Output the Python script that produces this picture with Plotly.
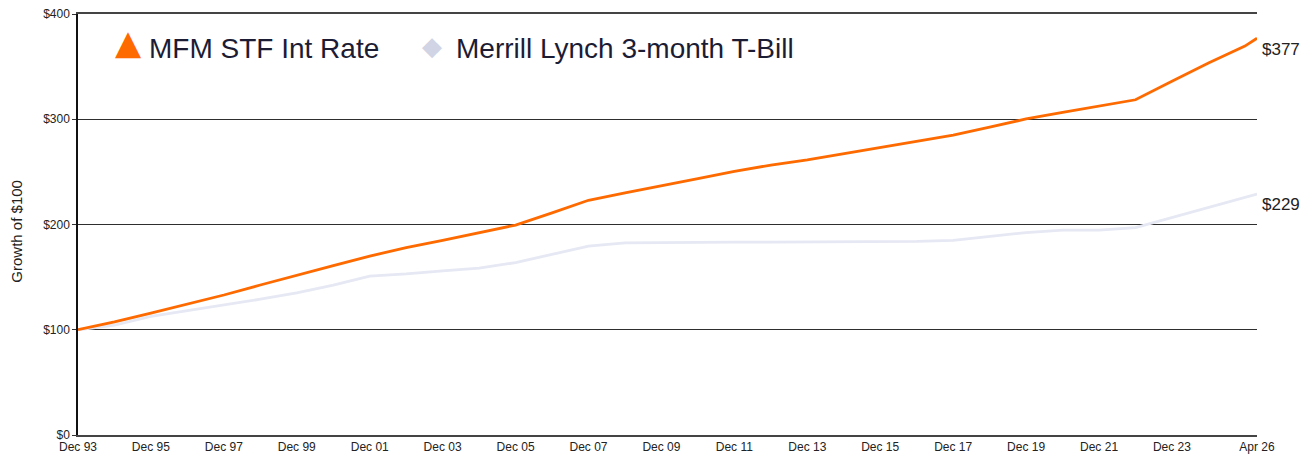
import plotly.graph_objects as go

# Period-end dates (year-month)
dates = ["1993-12", "1994-12", "1995-12", "1996-12", "1997-12", "1998-12", "1999-12",
         "2000-12", "2001-12", "2002-12", "2003-12", "2004-12", "2005-12", "2006-12",
         "2007-12", "2008-12", "2009-12", "2010-12", "2011-12", "2012-12", "2013-12",
         "2014-12", "2015-12", "2016-12", "2017-12", "2018-12", "2019-12", "2020-12",
         "2021-12", "2022-12", "2023-12", "2024-12", "2025-12", "2026-04"]

mfm_stf = [100, 107.5, 115.8, 124.5, 133, 142.5, 152, 161, 170, 178, 185, 192, 199.5,
           211, 223, 230, 236.5, 243.5, 250.5, 256.5, 261.5, 267.5, 273, 279, 285,
           292.5, 300.3, 306.5, 312.5, 318.5, 336, 353.5, 369.5, 377]

ml_tbill = [100, 104.5, 112.6, 118, 123.7, 129, 135, 142.5, 151, 153, 156, 158.5, 163.8,
            171.5, 179.5, 182.5, 183, 183.2, 183.3, 183.3, 183.4, 183.4, 183.5, 184,
            185, 189, 192.3, 194.6, 194.7, 197, 206.7, 216.3, 225.9, 229]

tick_vals = ["1993-12", "1995-12", "1997-12", "1999-12", "2001-12", "2003-12", "2005-12",
             "2007-12", "2009-12", "2011-12", "2013-12", "2015-12", "2017-12", "2019-12",
             "2021-12", "2023-12", "2026-04"]
tick_text = ["Dec 93", "Dec 95", "Dec 97", "Dec 99", "Dec 01", "Dec 03", "Dec 05",
             "Dec 07", "Dec 09", "Dec 11", "Dec 13", "Dec 15", "Dec 17", "Dec 19",
             "Dec 21", "Dec 23", "Apr 26"]

y_ticks = [0, 100, 200, 300, 400]
y_tick_text = ["$0", "$100", "$200", "$300", "$400"]

series_names = ["MFM STF Int Rate", "Merrill Lynch 3-month T-Bill"]
end_labels = ["$377", "$229"]

ORANGE = "#FF6A00"
TBILL = "#E6E8F3"
TBILL_MARK = "#D0D4E4"
FONT = "Liberation Sans, Arial, sans-serif"

# plot-area geometry (pixels inside the figure)
PLOT_W = 1179
PLOT_L = 70

fig = go.Figure()

fig.add_trace(go.Scatter(x=dates, y=ml_tbill, mode="lines", name=series_names[1],
                         line=dict(color=TBILL, width=2.8), showlegend=False))
fig.add_trace(go.Scatter(x=dates, y=mfm_stf, mode="lines", name=series_names[0],
                         line=dict(color=ORANGE, width=2.8), showlegend=False))

# end-value labels
for val, lab in zip([mfm_stf[-1], ml_tbill[-1]], end_labels):
    fig.add_annotation(x=dates[-1], y=val, text=lab, showarrow=False,
                       xanchor="left", yanchor="middle", xshift=3, yshift=-11,
                       font=dict(size=17, color="#222222", family=FONT))

# legend (symbols + names) drawn as text in paper space
LEG_Y = 0.918
legend_txt = dict(size=28, color="#1c1c34", family=FONT)
fig.add_annotation(xref="paper", yref="paper", x=50 / PLOT_W, y=LEG_Y, text="▲",
                   showarrow=False, xanchor="center", yanchor="middle", yshift=7,
                   font=dict(size=34, color=ORANGE, family="DejaVu Sans"))
fig.add_annotation(xref="paper", yref="paper", x=69 / PLOT_W, y=LEG_Y,
                   text=series_names[0], showarrow=False, xanchor="left", yanchor="middle",
                   font=legend_txt)
fig.add_annotation(xref="paper", yref="paper", x=354 / PLOT_W, y=LEG_Y, text="◆",
                   showarrow=False, xanchor="center", yanchor="middle", yshift=3,
                   font=dict(size=26, color=TBILL_MARK, family="DejaVu Sans"))
fig.add_annotation(xref="paper", yref="paper", x=376 / PLOT_W, y=LEG_Y,
                   text=series_names[1], showarrow=False, xanchor="left", yanchor="middle",
                   font=legend_txt)

# y-axis title
fig.add_annotation(xref="paper", yref="paper", x=-61 / PLOT_W, y=0.483,
                   text="Growth of $100", textangle=-90, showarrow=False,
                   xanchor="center", yanchor="middle",
                   font=dict(size=15, color="#222222", family=FONT))

fig.update_layout(
    width=1300, height=450,
    margin=dict(l=PLOT_L, r=1300 - PLOT_L - PLOT_W, t=6, b=22.5),
    paper_bgcolor="white", plot_bgcolor="white",
    font=dict(family=FONT, color="#222222"),
    showlegend=False,
    xaxis=dict(type="date", range=["1993-12", "2026-04"], tickvals=tick_vals,
               ticktext=tick_text, showgrid=False, zeroline=False,
               showline=True, mirror=True, linecolor="#444444", linewidth=2,
               ticks="", automargin=False, ticklabeloverflow="allow",
               tickfont=dict(size=12, family=FONT, color="#222222")),
    yaxis=dict(range=[0, 400], tickvals=y_ticks, ticktext=y_tick_text,
               showgrid=True, gridcolor="#2e2e2e", gridwidth=1.3, zeroline=False,
               showline=True, linecolor="#111111", linewidth=1.5,
               ticks="outside", ticklen=4, tickcolor="#333333", automargin=False,
               ticklabeloverflow="allow",
               tickfont=dict(size=12, family=FONT, color="#222222")),
)

fig.write_html("out.html")
